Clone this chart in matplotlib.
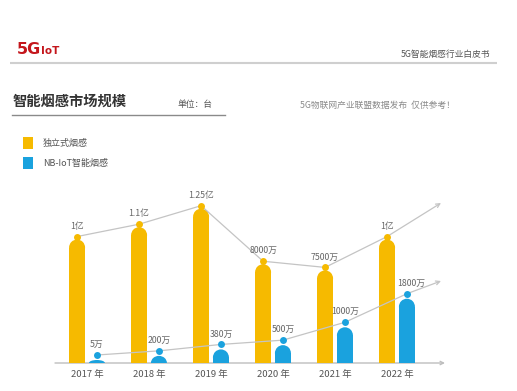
import matplotlib
matplotlib.use("Agg")
import matplotlib.pyplot as plt
from matplotlib.patches import Ellipse, Rectangle
from matplotlib.transforms import offset_copy
import numpy as np

plt.rcParams['font.family'] = ['Noto Sans CJK SC', 'DejaVu Sans']

# ---------------- data ----------------
years = ["2017 年", "2018 年", "2019 年", "2020 年", "2021 年", "2022 年"]
standalone = [10000, 11000, 12500, 8000, 7500, 10000]          # 万台
standalone_labels = ["1亿", "1.1亿", "1.25亿", "8000万", "7500万", "1亿"]
nbiot = [5, 200, 380, 500, 1000, 1800]                          # 万台
nbiot_labels = ["5万", "200万", "380万", "500万", "1000万", "1800万"]
legend_labels = ["独立式烟感", "NB-IoT智能烟感"]

YELLOW = "#F6BA00"
BLUE = "#1AA2DE"
LINE = "#c4c4c4"
TXT = "#666666"

W, H = 517, 391
fig = plt.figure(figsize=(W / 100, H / 100), dpi=100)
fig.patch.set_facecolor("white")

# decoration layer in pixel coordinates
deco = fig.add_axes([0, 0, 1, 1])
deco.set_xlim(0, W)
deco.set_ylim(H, 0)
deco.axis("off")

# logo
deco.text(17, 49, "5G", color="#C4161C", fontsize=11.5, fontweight="bold",
          family=["DejaVu Sans"], va="center", ha="left")
deco.text(40.5, 51, "IoT", color="#C4161C", fontsize=7.5, fontweight="bold",
          family=["DejaVu Sans"], va="center", ha="left")
deco.text(490, 54, "5G智能烟感行业白皮书", color="#555555", fontsize=6.3,
          ha="right", va="center")
deco.plot([10, 497], [63, 63], color="#cfcfcf", lw=1.5, solid_capstyle="butt")

# title
deco.text(13, 102, "智能烟感市场规模", color="#333333", fontsize=10.3,
          fontweight="bold", ha="left", va="center")
deco.text(178, 105, "单位：台", color="#555555", fontsize=6.3, ha="left", va="center")
deco.plot([12, 225], [114.5, 114.5], color="#8a8a8a", lw=1.0)
deco.text(300, 105, "5G物联网产业联盟数据发布  仅供参考！", color="#8a8a8a",
          fontsize=6.3, ha="left", va="center")

# legend
deco.add_patch(Rectangle((23, 137), 10, 12, color=YELLOW, lw=0))
deco.add_patch(Rectangle((23, 157), 10, 12, color=BLUE, lw=0))
deco.text(43, 143.5, legend_labels[0], color="#555555", fontsize=6.5, ha="left", va="center")
deco.text(43, 163.5, legend_labels[1], color="#555555", fontsize=6.5, ha="left", va="center")

# ---------------- main chart ----------------
ax_left_px, ax_w_px = 40, 410
base_px, ax_h_px = 363, 183
group_px0, group_step = 87, 62
xmin = -(group_px0 - ax_left_px) / group_step
xmax = xmin + ax_w_px / group_step

rect = [ax_left_px / W, (H - base_px) / H, ax_w_px / W, ax_h_px / H]
ax = fig.add_axes(rect)
ax2 = fig.add_axes(rect)
for a in (ax, ax2):
    a.set_xlim(xmin, xmax)
    a.axis("off")
    a.patch.set_alpha(0)

y_per_px_yel = 81.0
y_per_px_blu = 28.0
ax.set_ylim(0, ax_h_px * y_per_px_yel)
ax2.set_ylim(0, ax_h_px * y_per_px_blu)

x = np.arange(len(years))
off = 0.16
bw = 16 / group_step
r_px = 8
min_px = 3


def rounded_bars(a, xs, vals, per_px, color):
    tops = []
    for xi, v in zip(xs, vals):
        top_px = max(v / per_px, min_px)
        r = min(r_px, top_px) * per_px
        top = top_px * per_px
        a.bar(xi, top - r, width=bw, color=color, lw=0, zorder=2)
        a.add_patch(Ellipse((xi, top - r), bw, 2 * r, color=color, lw=0, zorder=2))
        tops.append(top)
    return np.array(tops)


xs_y = x - off
xs_b = x + off
tops_y = rounded_bars(ax, xs_y, standalone, y_per_px_yel, YELLOW)
tops_b = rounded_bars(ax2, xs_b, nbiot, y_per_px_blu, BLUE)

# trend lines with dots
tr_y = offset_copy(ax.transData, fig=fig, x=0, y=3, units="dots")
tr_b = offset_copy(ax2.transData, fig=fig, x=0, y=5, units="dots")

ax.plot(xs_y, tops_y, color=LINE, lw=0.9, transform=tr_y, zorder=3, clip_on=False)
ax.plot(xs_y, tops_y, "o", color=YELLOW, ms=5, mec="none", transform=tr_y, zorder=4, clip_on=False)
ax2.plot(xs_b, tops_b, color=LINE, lw=0.9, transform=tr_b, zorder=3, clip_on=False)
ax2.plot(xs_b, tops_b, "o", color=BLUE, ms=5, mec="none", transform=tr_b, zorder=4, clip_on=False)

arrow = dict(arrowstyle="->", color=LINE, lw=0.9, shrinkA=0, shrinkB=0,
             mutation_scale=7)
ax.annotate("", xy=(441, H - 203), xycoords="figure pixels",
            xytext=(xs_y[-1], tops_y[-1]), textcoords=tr_y, arrowprops=arrow,
            annotation_clip=False)
ax2.annotate("", xy=(441, H - 281), xycoords="figure pixels",
             xytext=(xs_b[-1], tops_b[-1]), textcoords=tr_b, arrowprops=arrow,
             annotation_clip=False)

# value labels
for xi, t, lab in zip(xs_y, tops_y, standalone_labels):
    ax.annotate(lab, (xi, t), xycoords=tr_y, xytext=(0, 7.5), textcoords="offset points",
                ha="center", va="center", fontsize=6.3, color=TXT, annotation_clip=False)
for i, (xi, t, lab) in enumerate(zip(xs_b, tops_b, nbiot_labels)):
    dx = 3 if i == len(xs_b) - 1 else 0
    ax2.annotate(lab, (xi, t), xycoords=tr_b, xytext=(dx, 7.5), textcoords="offset points",
                 ha="center", va="center", fontsize=6.3, color=TXT, annotation_clip=False)

# baseline axis with arrow
ax.annotate("", xy=(445, H - base_px), xycoords="figure pixels",
            xytext=(55, H - base_px), textcoords="figure pixels",
            arrowprops=dict(arrowstyle="->", color="#bdbdbd", lw=1.0,
                            shrinkA=0, shrinkB=0, mutation_scale=6),
            annotation_clip=False, zorder=1)

# year labels
for xi, lab in zip(x, years):
    ax.annotate(lab, (xi, 0), xycoords="data", xytext=(0, -8), textcoords="offset points",
                ha="center", va="center", fontsize=6.8, color="#555555",
                annotation_clip=False)

fig.savefig("out.png", dpi=100, facecolor="white")
